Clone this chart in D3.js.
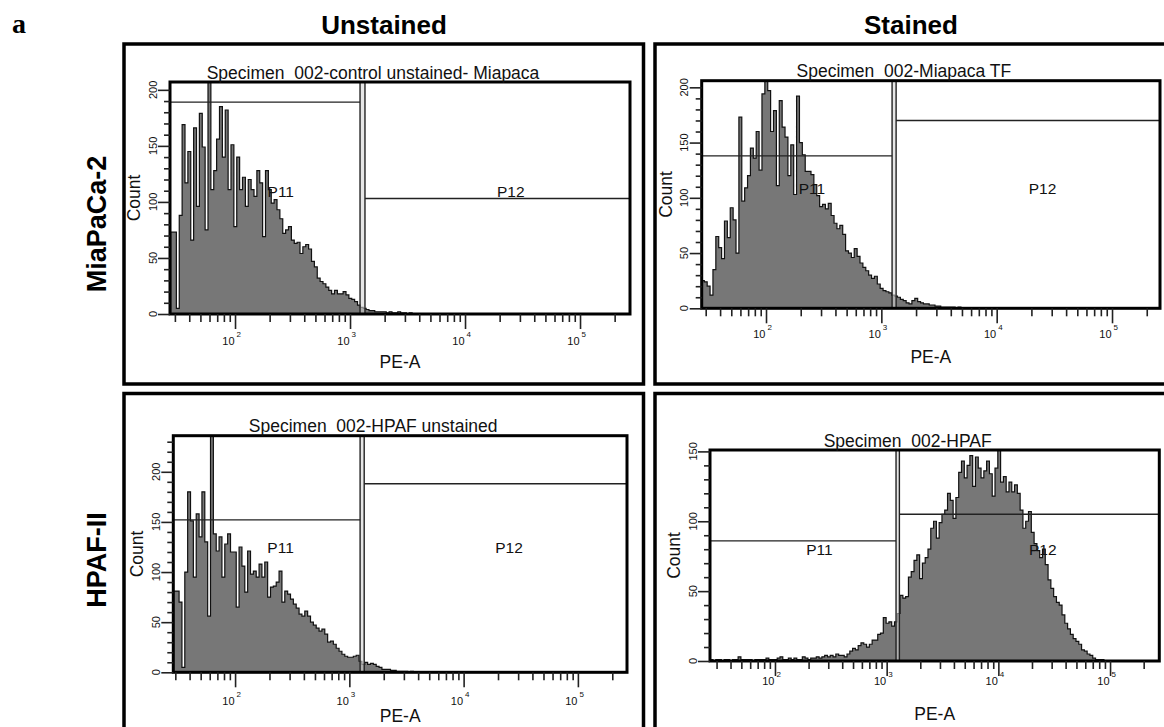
<!DOCTYPE html>
<html>
<head>
<meta charset="utf-8">
<style>

  body {
    margin: 0;
    background-color: white;
  }

  svg {
    display: block;
  }

  text {
    font-family: "Liberation Sans", Arial, Helvetica, sans-serif;
    fill: #111;
  }

  .heading {
    font-weight: bold;
    font-size: 26px;
    fill: #000;
  }

  .rowlabel {
    font-weight: bold;
    font-size: 27px;
    fill: #000;
  }

  .box {
    fill: none;
    stroke: #000;
    stroke-width: 3.5;
  }

  .frame {
    fill: none;
    stroke: #000;
    stroke-width: 3;
  }

  .hist {
    fill: #777;
    stroke: #111;
    stroke-width: 1.2;
  }

  .gate {
    stroke: #222;
    stroke-width: 1.4;
    fill: none;
  }

  .band {
    fill: #d6d6d6;
    opacity: 0.6;
  }

  .axis path {
    display: none;
  }

  .axis line {
    stroke: #222;
    stroke-width: 1.6;
  }

  .specimen {
    font-size: 17.5px;
    white-space: pre;
  }

  .axtitle {
    font-size: 17.5px;
  }

  .gatename {
    font-size: 15.5px;
  }

  .ticklabel {
    font-size: 11px;
  }

  .exponent {
    font-size: 8px;
  }

</style>
</head>
<body>
<script src="https://cdn.jsdelivr.net/npm/d3@7"></script>
<script>

// headings
var columnTitles = ["Unstained", "Stained"];
var rowTitles = ["MiaPaCa-2", "HPAF-II"];
var specimenTitles = [
  "Specimen  002-control unstained- Miapaca",
  "Specimen  002-Miapaca TF",
  "Specimen  002-HPAF unstained",
  "Specimen  002-HPAF"
];

// histogram bins: log10(PE-A) of the first bin edge, bin width in decades
var binWidth = 0.025;
var binStart = [1.44, 1.44, 1.46, 1.42];

// counts per bin
var countsMiaUnstained = [73,73,5,88,169,117,145,66,166,96,179,149,75,215,111,128,156,185,140,182,
  111,151,78,140,111,122,96,120,111,105,128,117,69,128,111,99,102,93,85,72,
  75,78,66,63,64,54,60,62,58,47,42,32,29,27,24,21,18,21,18,18,
  20,17,14,13,11,8,6,5,4,3,3,2,2,2,2,1,2,1,1,2,1,1,0,1,0];

var countsMiaStained = [25,24,20,12,35,65,55,45,79,64,91,80,50,173,97,109,120,145,136,160,
  125,194,215,197,160,179,111,188,164,155,120,148,103,192,150,139,124,124,121,112,
  102,92,94,90,95,84,77,72,75,67,52,50,46,54,47,41,37,34,30,27,
  29,22,18,16,15,14,12,11,10,8,7,5,4,7,9,6,5,4,4,3,3,2,2,1,1,1,1,1,0,1];

var countsHpafUnstained = [81,81,70,5,100,180,151,95,158,135,180,130,56,250,138,121,135,95,128,138,
  120,120,65,125,106,80,121,98,101,95,108,95,110,75,85,86,90,101,70,81,
  78,73,68,64,58,56,61,56,50,47,44,41,43,38,30,31,28,24,21,18,
  16,15,15,16,17,11,8,10,8,9,8,6,5,3,3,3,2,2,1,1,1,1,0,1];

var countsHpafStained = [1,0,1,1,0,1,1,0,1,1,3,1,1,1,1,0,1,1,1,1,2,1,1,1,2,3,1,1,2,1,
  2,1,1,3,2,1,2,2,3,2,3,4,3,4,3,5,
  4,4,3,5,7,9,8,11,13,12,10,12,15,15,19,20,31,27,28,25,
  28,34,47,45,46,60,64,72,76,59,70,74,80,95,100,88,99,105,108,120,
  115,102,117,135,143,131,140,147,125,146,138,131,136,143,134,118,138,152,128,132,
  121,128,121,126,120,108,95,100,107,92,84,79,74,80,69,58,52,46,42,40,
  33,27,23,19,16,14,12,8,7,5,4,2,1,1,1];

var histCounts = [countsMiaUnstained, countsMiaStained, countsHpafUnstained, countsHpafStained];

// gates P11 (low interval) and P12 (high interval)
var gateNames = ["P11", "P12"];
var gateLabelAt = [250, 25000];
var p11Upper = [1222, 1239, 1242, 1213];
var p12Lower = [1349, 1343, 1349, 1300];
var p11Level = [189, 138, 152, 86];
var p12Level = [103, 170, 188, 105];

// axis ranges
var xMin = [27.2, 27.7, 28.8, 26.2];
var xMax = [272000, 260600, 269000, 276000];
var yMax = [207, 206, 236, 151];

// ticks
var xMajor = [1e2, 1e3, 1e4, 1e5];
var xMinorFactors = [2, 3, 4, 5, 6, 7, 8, 9];
var yMajorStep = 50;
var yMinorStep = 10;

// page layout (plot rectangles and outer boxes)
var plots = [
  {left: 170, top: 82, right: 630, bottom: 314, labelDy: 31, titleDy: 54},
  {left: 701.7, top: 80.7, right: 1160, bottom: 308.3, labelDy: 30, titleDy: 55},
  {left: 173.3, top: 435.7, right: 627, bottom: 672.3, labelDy: 33, titleDy: 50},
  {left: 710, top: 450, right: 1159.3, bottom: 661, labelDy: 24, titleDy: 59}
];
var boxes = [
  {x: 124, y: 44, w: 519.5, h: 340},
  {x: 655, y: 44, w: 520, h: 340},
  {x: 124, y: 393.5, w: 519.5, h: 345},
  {x: 655, y: 393.5, w: 520, h: 345}
];

var svg = d3.select("body").append("svg")
    .attr("width", 1164)
    .attr("height", 727);

// figure letter
svg.append("text")
    .attr("x", 12)
    .attr("y", 33)
    .style("font-family", "'Liberation Serif', 'DejaVu Serif', serif")
    .style("font-weight", "bold")
    .style("font-size", "28px")
    .style("fill", "#000")
    .text("a");

// column headings
svg.selectAll(".heading")
    .data(columnTitles)
    .enter()
    .append("text")
    .attr("class", "heading")
    .attr("x", function(d, i) { return [384, 911][i]; })
    .attr("y", 34)
    .attr("text-anchor", "middle")
    .text(function(d) { return d; });

// row headings
svg.selectAll(".rowlabel")
    .data(rowTitles)
    .enter()
    .append("text")
    .attr("class", "rowlabel")
    .attr("transform", function(d, i) { return "translate(97," + [224, 560][i] + ") rotate(-90)"; })
    .attr("text-anchor", "middle")
    .attr("dominant-baseline", "central")
    .text(function(d) { return d; });

// outer boxes
svg.selectAll(".box")
    .data(boxes)
    .enter()
    .append("rect")
    .attr("class", "box")
    .attr("x", function(d) { return d.x; })
    .attr("y", function(d) { return d.y; })
    .attr("width", function(d) { return d.w; })
    .attr("height", function(d) { return d.h; });

plots.forEach(function(p, k) {

  var x = d3.scaleLog().domain([xMin[k], xMax[k]]).range([p.left, p.right]);
  var y = d3.scaleLinear().domain([0, yMax[k]]).range([p.bottom, p.top]);
  var midY = (p.top + p.bottom) / 2;
  var midX = (p.left + p.right) / 2;

  var g = svg.append("g");

  g.append("clipPath")
      .attr("id", "clip" + k)
    .append("rect")
      .attr("x", p.left)
      .attr("y", p.top)
      .attr("width", p.right - p.left)
      .attr("height", p.bottom - p.top);

  var inner = g.append("g").attr("clip-path", "url(#clip" + k + ")");

  // histogram
  var counts = histCounts[k];
  var pts = counts.map(function(c, i) {
    return {v: Math.pow(10, binStart[k] + i * binWidth), c: c};
  });
  pts.push({v: Math.pow(10, binStart[k] + counts.length * binWidth), c: 0});

  var area = d3.area()
      .curve(d3.curveStepAfter)
      .x(function(d) { return x(d.v); })
      .y0(y(0))
      .y1(function(d) { return y(d.c); });

  inner.append("path")
      .datum(pts)
      .attr("class", "hist")
      .attr("d", area);

  // gates
  inner.append("rect")
      .attr("class", "band")
      .attr("x", x(p11Upper[k]))
      .attr("y", p.top)
      .attr("width", x(p12Lower[k]) - x(p11Upper[k]))
      .attr("height", p.bottom - p.top);

  inner.append("line").attr("class", "gate")
      .attr("x1", x(xMin[k])).attr("x2", x(p11Upper[k]))
      .attr("y1", y(p11Level[k])).attr("y2", y(p11Level[k]));
  inner.append("line").attr("class", "gate")
      .attr("x1", x(p11Upper[k])).attr("x2", x(p11Upper[k]))
      .attr("y1", p.top).attr("y2", p.bottom);
  inner.append("line").attr("class", "gate")
      .attr("x1", x(p12Lower[k])).attr("x2", x(xMax[k]))
      .attr("y1", y(p12Level[k])).attr("y2", y(p12Level[k]));
  inner.append("line").attr("class", "gate")
      .attr("x1", x(p12Lower[k])).attr("x2", x(p12Lower[k]))
      .attr("y1", p.top).attr("y2", p.bottom);

  g.selectAll(".gatename")
      .data(gateNames)
      .enter()
      .append("text")
      .attr("class", "gatename")
      .attr("x", function(d, i) { return x(gateLabelAt[i]); })
      .attr("y", midY - 1)
      .attr("text-anchor", "middle")
      .text(function(d) { return d; });

  // frame
  g.append("rect")
      .attr("class", "frame")
      .attr("x", p.left)
      .attr("y", p.top)
      .attr("width", p.right - p.left)
      .attr("height", p.bottom - p.top);

  // x ticks
  var minors = [];
  for (var n = 1; n <= 5; n++) {
    xMinorFactors.forEach(function(f) {
      var v = f * Math.pow(10, n);
      if (v >= xMin[k] && v <= xMax[k]) minors.push(v);
    });
  }

  g.append("g")
      .attr("class", "axis")
      .attr("transform", "translate(0," + p.bottom + ")")
      .call(d3.axisBottom(x).tickValues(minors).tickSize(8).tickFormat(""));

  g.append("g")
      .attr("class", "axis")
      .attr("transform", "translate(0," + p.bottom + ")")
      .call(d3.axisBottom(x).tickValues(xMajor).tickSize(15).tickFormat(""));

  g.selectAll(".base")
      .data(xMajor)
      .enter()
      .append("text")
      .attr("class", "ticklabel base")
      .attr("x", function(d) { return x(d) - 0.5; })
      .attr("y", p.bottom + p.labelDy)
      .attr("text-anchor", "end")
      .text("10");

  g.selectAll(".exponent")
      .data(xMajor)
      .enter()
      .append("text")
      .attr("class", "exponent")
      .attr("x", function(d) { return x(d) + 1.5; })
      .attr("y", p.bottom + p.labelDy - 8)
      .text(function(d) { return Math.round(Math.log10(d)); });

  // y ticks
  var yMajors = d3.range(0, yMax[k] + 0.01, yMajorStep);
  var yMinors = d3.range(0, yMax[k] + 0.01, yMinorStep).filter(function(v) { return v % yMajorStep !== 0; });

  g.append("g")
      .attr("class", "axis")
      .attr("transform", "translate(" + p.left + ",0)")
      .call(d3.axisLeft(y).tickValues(yMinors).tickSize(6).tickFormat(""));

  g.append("g")
      .attr("class", "axis")
      .attr("transform", "translate(" + p.left + ",0)")
      .call(d3.axisLeft(y).tickValues(yMajors).tickSize(12).tickFormat(""));

  g.selectAll(".ylab")
      .data(yMajors)
      .enter()
      .append("text")
      .attr("class", "ticklabel ylab")
      .attr("transform", function(d) { return "translate(" + (p.left - 17.5) + "," + y(d) + ") rotate(-90)"; })
      .attr("text-anchor", "middle")
      .attr("dominant-baseline", "central")
      .text(function(d) { return d; });

  // axis titles
  g.append("text")
      .attr("class", "axtitle")
      .attr("transform", "translate(" + (p.left - 36) + "," + midY + ") rotate(-90)")
      .attr("text-anchor", "middle")
      .attr("dominant-baseline", "central")
      .text("Count");

  g.append("text")
      .attr("class", "axtitle")
      .attr("x", midX)
      .attr("y", p.bottom + p.titleDy)
      .attr("text-anchor", "middle")
      .text("PE-A");

  g.append("text")
      .attr("class", "specimen")
      .attr("x", midX - 27)
      .attr("y", p.top - 3.5)
      .attr("text-anchor", "middle")
      .text(specimenTitles[k]);

});

</script>
</body>
</html>
